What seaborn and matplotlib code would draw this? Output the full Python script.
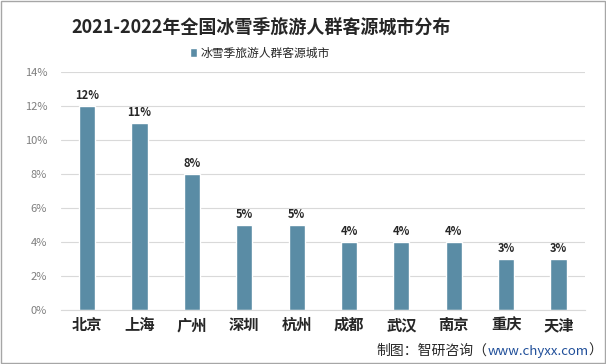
import pandas as pd
import matplotlib.pyplot as plt
import seaborn as sns
from matplotlib.ticker import FuncFormatter

cities = ['北京', '上海', '广州', '深圳', '杭州', '成都', '武汉', '南京', '重庆', '天津']
shares = [12, 11, 8, 5, 5, 4, 4, 4, 3, 3]
series_name = '冰雪季旅游人群客源城市'

sns.set_style('white')
plt.rcParams['font.family'] = ['Noto Sans CJK SC', 'DejaVu Sans']

df = pd.DataFrame({'city': cities, 'share': shares})

fig = plt.figure(figsize=(6.06, 3.64), dpi=100)
ax = fig.add_axes([0.1007, 0.148, 0.864, 0.654])

bar_color = '#5A8CA5'
sns.barplot(data=df, x='city', y='share', color=bar_color, width=0.31,
            saturation=1, ax=ax, label=series_name)

ax.set_ylim(0, 14)
ax.set_yticks(range(0, 15, 2))
ax.yaxis.set_major_formatter(FuncFormatter(lambda v, p: f'{int(v)}%'))
ax.grid(axis='y', color='#d9d9d9', linewidth=0.8)
ax.set_axisbelow(True)
for s in ['top', 'right', 'left']:
    ax.spines[s].set_visible(False)
ax.spines['bottom'].set_color('#d9d9d9')
ax.tick_params(axis='y', labelsize=8, colors='#7f7f7f', length=0, pad=10)
ax.tick_params(axis='x', length=0, pad=5)
for lbl in ax.get_xticklabels():
    lbl.set_fontsize(11)
    lbl.set_fontweight('bold')
ax.set_xlabel('')
ax.set_ylabel('')

for i, v in enumerate(shares):
    ax.text(i, v + 0.25, f'{v}%', ha='center', va='bottom', fontsize=8,
            fontweight='bold', color='#262626')

leg = ax.legend(loc='center', bbox_to_anchor=(0.38, 1.08), frameon=False,
                fontsize=8.5, handlelength=0.6, handleheight=0.8, handletextpad=0.3)

fig.text(0.43, 0.926, '2021-2022年全国冰雪季旅游人群客源城市分布', ha='center', va='center',
         fontsize=13, fontweight='bold', color='#262626')

# source line, built right to left
t3 = fig.text(0.994, 0.037, '）', ha='right', va='center', fontsize=10, color='#262626')
t2 = ax.annotate('www.chyxx.com', xy=(0, 0), xycoords=t3, va='bottom', ha='right',
                 fontsize=9.5, color='#1f4e99', annotation_clip=False)
t1 = ax.annotate('制图：智研咨询（', xy=(0, 0), xycoords=t2, va='bottom', ha='right',
                 fontsize=10, color='#262626', annotation_clip=False)

fig.patches.append(plt.Rectangle((0.001, 0.002), 0.997, 0.995, transform=fig.transFigure,
                                 fill=False, edgecolor='#a6a6a6', linewidth=1))

fig.savefig('out.png', dpi=100)
